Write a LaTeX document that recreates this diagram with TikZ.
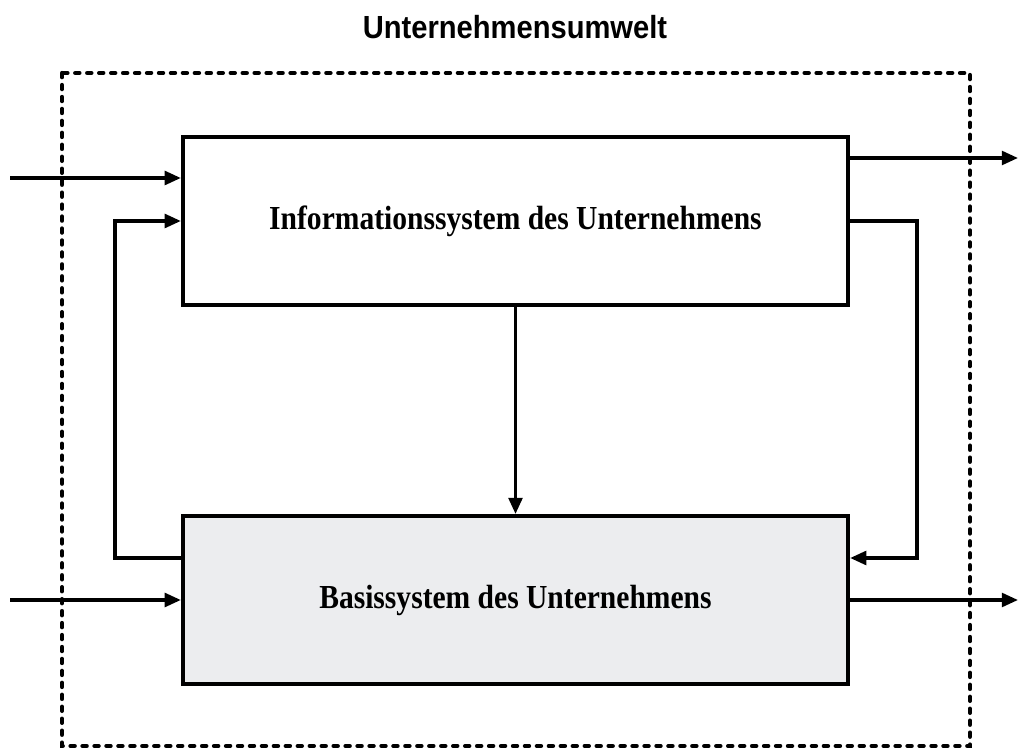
\documentclass[tikz,border=0pt]{standalone}
\usepackage{fontspec}
\setmainfont{Liberation Serif}
\setsansfont{Liberation Sans}
\newfontfamily\boxfont[FakeStretch=0.88]{Liberation Serif}
\newfontfamily\titlefont[FakeStretch=0.91]{Liberation Sans}
\usetikzlibrary{arrows.meta}
\definecolor{basisgray}{RGB}{236,237,239}

\begin{document}
\begin{tikzpicture}[x=0.01cm,y=-0.01cm,
    sysbox/.style={draw,line width=1.1pt,minimum width=6.65cm,minimum height=1.68cm,
      inner sep=0pt,font=\boxfont\bfseries\fontsize{9.55}{12}\selectfont},
    flow/.style={line width=0.95pt,-{Triangle[length=4.6pt,width=3.9pt]}},
    umwelt/.style={line width=1.2pt,line cap=round,dash pattern=on 1.2pt off 2.2pt}]
    \useasboundingbox (0,0) rectangle (1018,749);

    % environment
    \node[font=\titlefont\bfseries\fontsize{9.1}{11}\selectfont] (title) at (515,27) {Unternehmensumwelt};
    \draw[umwelt] (62,73) rectangle (970,746);

    % systems
    \node[sysbox] (info) at (515.5,221) {Informationssystem des Unternehmens};
    \node[sysbox,fill=basisgray] (basis) at (515.5,600) {Basissystem des Unternehmens};

    \coordinate (inA) at (10,178);
    \coordinate (inB) at (10,600);
    \coordinate (outA) at (1018,158);
    \coordinate (outB) at (1018,600);
    \coordinate (fbL) at (115,558);
    \coordinate (fbR) at (917,221);

    % inputs and outputs
    \draw[flow] (inA) -- (inA -| info.west);
    \draw[flow] (inB) -- (basis.west);
    \draw[flow] (info.east |- outA) -- (outA);
    \draw[flow] (basis.east) -- (outB);

    % links between the systems
    \draw[flow] (info) -- (basis);
    \draw[flow] (basis.west |- fbL) -- (fbL) |- (info.west);
    \draw[flow] (info.east) -- (fbR) |- (basis.east |- fbL);
\end{tikzpicture}
\end{document}
